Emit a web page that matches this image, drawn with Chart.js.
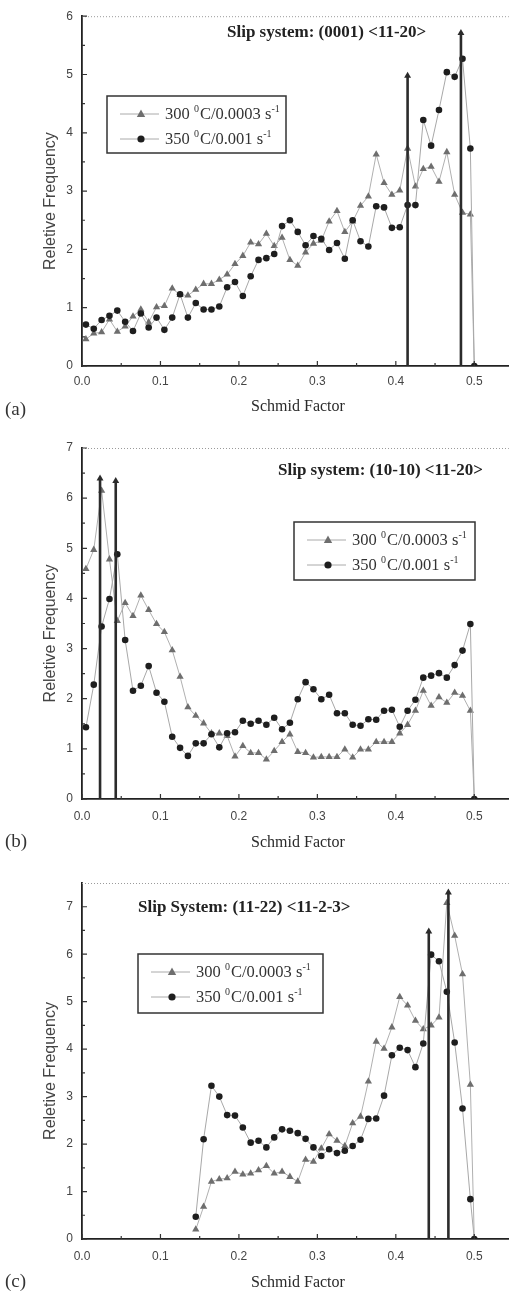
<!DOCTYPE html>
<html>
<head>
<meta charset="utf-8">
<script src="https://cdn.jsdelivr.net/npm/chart.js@4.4.1/dist/chart.umd.min.js"></script>
<style>
  html, body { margin: 0; padding: 0; background: #fff; }
  body { width: 513px; height: 1301px; position: relative; overflow: hidden; }
  .panel { position: absolute; left: 0; width: 513px; }
  canvas { display: block; }
</style>
</head>
<body>
<div class="panel" style="top:0;height:420px"><canvas id="chartA" width="513" height="420"></canvas></div>
<div class="panel" style="top:420px;height:440px"><canvas id="chartB" width="513" height="440"></canvas></div>
<div class="panel" style="top:860px;height:441px"><canvas id="chartC" width="513" height="441"></canvas></div>
<script>
// bin centres (Schmid factor), shared by all three panels
const schmidX = [0.005, 0.015, 0.025, 0.035, 0.045, 0.055, 0.065, 0.075, 0.085, 0.095,
                 0.105, 0.115, 0.125, 0.135, 0.145, 0.155, 0.165, 0.175, 0.185, 0.195,
                 0.205, 0.215, 0.225, 0.235, 0.245, 0.255, 0.265, 0.275, 0.285, 0.295,
                 0.305, 0.315, 0.325, 0.335, 0.345, 0.355, 0.365, 0.375, 0.385, 0.395,
                 0.405, 0.415, 0.425, 0.435, 0.445, 0.455, 0.465, 0.475, 0.485, 0.495, 0.5];

// (a) basal (0001) <11-20>
const basal300 = [0.46, 0.56, 0.58, 0.80, 0.59, 0.68, 0.85, 0.97, 0.75, 1.01,
                  1.03, 1.33, 1.22, 1.21, 1.31, 1.41, 1.41, 1.48, 1.57, 1.75,
                  1.89, 2.12, 2.09, 2.27, 2.06, 2.20, 1.82, 1.72, 1.95, 2.10,
                  2.15, 2.48, 2.66, 2.30, 2.48, 2.75, 2.91, 3.63, 3.14, 2.94,
                  3.01, 3.73, 3.08, 3.38, 3.42, 3.16, 3.67, 2.94, 2.63, 2.60, 0];
const basal350 = [0.71, 0.64, 0.79, 0.86, 0.95, 0.76, 0.60, 0.90, 0.66, 0.83,
                  0.62, 0.83, 1.23, 0.83, 1.08, 0.97, 0.97, 1.02, 1.35, 1.44,
                  1.20, 1.54, 1.82, 1.85, 1.92, 2.40, 2.50, 2.30, 2.07, 2.23,
                  2.18, 1.99, 2.11, 1.84, 2.50, 2.14, 2.05, 2.74, 2.72, 2.37,
                  2.38, 2.76, 2.76, 4.22, 3.78, 4.39, 5.04, 4.96, 5.27, 3.73, 0];
const basalArrowX = [0.415, 0.483];
const basalArrowTop = [4.98, 5.71];

// (b) prismatic (10-10) <11-20>
const prism300 = [4.59, 4.97, 6.15, 4.78, 3.55, 3.91, 3.65, 4.06, 3.77, 3.49,
                  3.33, 2.97, 2.44, 1.83, 1.66, 1.51, 1.31, 1.31, 1.26, 0.85,
                  1.06, 0.92, 0.92, 0.79, 0.96, 1.14, 1.29, 0.94, 0.92, 0.83,
                  0.84, 0.84, 0.84, 0.99, 0.83, 0.99, 0.99, 1.14, 1.14, 1.14,
                  1.31, 1.48, 1.76, 2.16, 1.86, 2.03, 1.92, 2.12, 2.06, 1.76, 0];
const prism350 = [1.43, 2.28, 3.44, 3.99, 4.88, 3.17, 2.16, 2.26, 2.65, 2.12,
                  1.94, 1.24, 1.02, 0.86, 1.11, 1.11, 1.29, 1.03, 1.31, 1.33,
                  1.56, 1.50, 1.56, 1.48, 1.62, 1.39, 1.52, 1.99, 2.33, 2.19,
                  1.99, 2.08, 1.71, 1.71, 1.48, 1.46, 1.59, 1.58, 1.76, 1.78,
                  1.44, 1.76, 1.98, 2.42, 2.46, 2.51, 2.42, 2.67, 2.96, 3.49, 0];
const prismArrowX = [0.023, 0.043];
const prismArrowTop = [6.39, 6.34];

// (c) pyramidal (11-22) <11-2-3>
const pyr300 = [null, null, null, null, null, null, null, null, null, null,
                null, null, null, null, 0.20, 0.68, 1.21, 1.26, 1.28, 1.42,
                1.36, 1.38, 1.45, 1.54, 1.38, 1.42, 1.31, 1.21, 1.67, 1.63,
                1.91, 2.21, 2.07, 1.96, 2.44, 2.58, 3.32, 4.16, 4.01, 4.46,
                5.10, 4.92, 4.60, 4.42, 4.50, 4.67, 7.08, 6.39, 5.58, 3.25, 0];
const pyr350 = [null, null, null, null, null, null, null, null, null, null,
                null, null, null, null, 0.47, 2.10, 3.23, 3.00, 2.61, 2.60,
                2.35, 2.03, 2.07, 1.93, 2.14, 2.31, 2.28, 2.23, 2.11, 1.93,
                1.75, 1.89, 1.81, 1.86, 1.96, 2.09, 2.53, 2.54, 3.02, 3.87,
                4.03, 3.98, 3.62, 4.12, 5.99, 5.85, 5.21, 4.14, 2.75, 0.84, 0];
const pyrArrowX = [0.442, 0.467];
const pyrArrowTop = [6.48, 7.30];

const xTickVals = [0, 0.1, 0.2, 0.3, 0.4, 0.5];
const yTicksA = [0, 1, 2, 3, 4, 5, 6];
const yTicksBC = [0, 1, 2, 3, 4, 5, 6, 7];

const panelTitles = ['Slip system: (0001) <11-20>', 'Slip system: (10-10) <11-20>', 'Slip System: (11-22) <11-2-3>'];
const panelLetters = ['(a)', '(b)', '(c)'];
// legend text pieces: [text, superscript?]
const legend300 = [['300 ', false], ['0', true], ['C/0.0003 s', false], ['-1', true]];
const legend350 = [['350 ', false], ['0', true], ['C/0.001 s', false], ['-1', true]];

const SERIF = '"Liberation Serif", "DejaVu Serif", serif';
const SANS = '"Liberation Sans", Arial, sans-serif';

function pts(vals) {
    return schmidX.map((x, i) => ({ x: x, y: vals[i] })).filter(p => p.y !== null);
}

function arrowSets(xs, tops) {
    return xs.map((x, i) => ({
        data: [{ x: x, y: 0 }, { x: x, y: tops[i] }],
        borderColor: '#2b2b2b',
        borderWidth: 2.6,
        pointRadius: [0, 4],
        pointStyle: 'triangle',
        pointBackgroundColor: '#2b2b2b',
        pointBorderColor: '#2b2b2b',
        pointBorderWidth: 0
    }));
}

function drawParts(ctx, parts, x, y) {
    parts.forEach(([txt, sup]) => {
        ctx.font = sup ? '10px ' + SERIF : '16.5px ' + SERIF;
        ctx.fillText(txt, x, sup ? y - 6 : y);
        x += ctx.measureText(txt).width + (sup ? 1 : 0);
    });
}

// frame, inward ticks, axis titles, slip title and boxed legend
const decoPlugin = {
    id: 'deco',
    afterDraw(chart, args, o) {
        const ctx = chart.ctx;
        const ca = chart.chartArea;
        const xs = chart.scales.x, ys = chart.scales.y;
        ctx.save();

        // dotted top frame line
        ctx.strokeStyle = '#9a9a9a';
        ctx.lineWidth = 1;
        ctx.setLineDash([1, 2]);
        ctx.beginPath();
        ctx.moveTo(ca.left, ca.top + 0.5);
        ctx.lineTo(ca.right, ca.top + 0.5);
        ctx.stroke();
        ctx.setLineDash([]);

        // inward tick marks
        ctx.strokeStyle = '#333';
        ctx.lineWidth = 1.2;
        ctx.beginPath();
        xTickVals.forEach(v => {
            const px = xs.getPixelForValue(v);
            ctx.moveTo(px, ca.bottom); ctx.lineTo(px, ca.bottom - 5);
            const pm = xs.getPixelForValue(v + 0.05);
            if (pm < ca.right) { ctx.moveTo(pm, ca.bottom); ctx.lineTo(pm, ca.bottom - 3); }
        });
        o.yTicks.forEach(v => {
            const py = ys.getPixelForValue(v);
            ctx.moveTo(ca.left, py); ctx.lineTo(ca.left + 5, py);
            const pm = ys.getPixelForValue(v + 0.5);
            if (pm > ca.top) { ctx.moveTo(ca.left, pm); ctx.lineTo(ca.left + 3, pm); }
        });
        ctx.stroke();

        // axis titles
        ctx.fillStyle = '#2a2a2a';
        ctx.textAlign = 'center';
        ctx.textBaseline = 'middle';
        ctx.font = '16px ' + SERIF;
        ctx.fillText('Schmid Factor', 298, o.xTitleY);
        ctx.save();
        ctx.translate(51, (ca.top + ca.bottom) / 2 + 10);
        ctx.rotate(-Math.PI / 2);
        ctx.font = '16px ' + SANS;
        ctx.fillStyle = '#444';
        ctx.fillText('Reletive Frequency', 0, 0);
        ctx.restore();

        // panel letter
        ctx.textAlign = 'left';
        ctx.font = '19px ' + SERIF;
        ctx.fillStyle = '#333';
        ctx.fillText(o.letter, 5, o.letterY);

        // slip-system title
        ctx.font = 'bold 17px ' + SERIF;
        ctx.fillStyle = '#222';
        ctx.fillText(o.title, o.titleX, o.titleY);

        // legend box
        const L = o.legend;
        ctx.strokeStyle = '#333';
        ctx.lineWidth = 1.5;
        ctx.strokeRect(L.left, L.top, L.width, L.height);
        const rows = [
            { y: L.top + 18, parts: legend300, tri: true },
            { y: L.top + 43, parts: legend350, tri: false }
        ];
        rows.forEach(r => {
            ctx.strokeStyle = '#aaa';
            ctx.lineWidth = 1;
            ctx.beginPath();
            ctx.moveTo(L.left + 13, r.y); ctx.lineTo(L.left + 52, r.y);
            ctx.stroke();
            const mx = L.left + 34;
            ctx.beginPath();
            if (r.tri) {
                ctx.fillStyle = '#6e6e6e';
                ctx.moveTo(mx, r.y - 4.5); ctx.lineTo(mx + 4.2, r.y + 3); ctx.lineTo(mx - 4.2, r.y + 3);
                ctx.closePath();
            } else {
                ctx.fillStyle = '#1e1e1e';
                ctx.arc(mx, r.y, 3.6, 0, Math.PI * 2);
            }
            ctx.fill();
            ctx.fillStyle = '#333';
            ctx.textBaseline = 'middle';
            drawParts(ctx, r.parts, L.left + 58, r.y + 1);
        });
        ctx.restore();
    }
};

function makeChart(id, cfg) {
    const datasets = arrowSets(cfg.arrowX, cfg.arrowTop).concat([
        {
            data: pts(cfg.s350),
            borderColor: '#a8a8a8',
            borderWidth: 1,
            pointStyle: 'circle',
            pointRadius: 3.3,
            pointBackgroundColor: '#1e1e1e',
            pointBorderColor: '#1e1e1e',
            pointBorderWidth: 0
        },
        {
            data: pts(cfg.s300),
            borderColor: '#b0b0b0',
            borderWidth: 1,
            pointStyle: 'triangle',
            pointRadius: 4.2,
            pointBackgroundColor: '#6e6e6e',
            pointBorderColor: '#6e6e6e',
            pointBorderWidth: 0
        }
    ]);

    return new Chart(document.getElementById(id), {
        type: 'line',
        data: { datasets: datasets },
        options: {
            responsive: false,
            devicePixelRatio: 1,
            animation: false,
            layout: { padding: { top: cfg.padTop, left: 0, right: 0, bottom: 0 } },
            plugins: {
                legend: { display: false },
                tooltip: { enabled: false },
                deco: cfg.deco
            },
            scales: {
                x: {
                    type: 'linear',
                    min: 0,
                    max: 0.544,
                    afterBuildTicks: s => { s.ticks = xTickVals.map(v => ({ value: v })); },
                    afterFit: s => { s.height = cfg.xAxisH; },
                    grid: { display: false, drawTicks: false },
                    border: { display: true, color: '#222', width: 1.8 },
                    ticks: {
                        padding: cfg.tickPad,
                        color: '#444',
                        maxRotation: 0,
                        font: { family: SANS, size: 12 },
                        callback: v => Number(v).toFixed(1)
                    }
                },
                y: {
                    type: 'linear',
                    min: 0,
                    max: cfg.yMax,
                    afterBuildTicks: s => { s.ticks = cfg.yTicks.map(v => ({ value: v })); },
                    afterFit: s => { s.width = 82; },
                    grid: { display: false, drawTicks: false },
                    border: { display: true, color: '#222', width: 1.8 },
                    ticks: {
                        padding: 9,
                        color: '#444',
                        font: { family: SANS, size: 12 },
                        callback: v => String(v)
                    }
                }
            }
        },
        plugins: [decoPlugin]
    });
}

makeChart('chartA', {
    s300: basal300, s350: basal350, arrowX: basalArrowX, arrowTop: basalArrowTop,
    yMax: 6, yTicks: yTicksA, padTop: 12, xAxisH: 54, tickPad: 8,
    deco: {
        yTicks: yTicksA, letter: panelLetters[0], letterY: 410, xTitleY: 407,
        title: panelTitles[0], titleX: 227, titleY: 33,
        legend: { left: 107, top: 96, width: 179, height: 57 }
    }
});

makeChart('chartB', {
    s300: prism300, s350: prism350, arrowX: prismArrowX, arrowTop: prismArrowTop,
    yMax: 7, yTicks: yTicksBC, padTop: 28, xAxisH: 61, tickPad: 10,
    deco: {
        yTicks: yTicksBC, letter: panelLetters[1], letterY: 422, xTitleY: 423,
        title: panelTitles[1], titleX: 278, titleY: 51,
        legend: { left: 294, top: 102, width: 181, height: 58 }
    }
});

makeChart('chartC', {
    s300: pyr300, s350: pyr350, arrowX: pyrArrowX, arrowTop: pyrArrowTop,
    yMax: 7.5, yTicks: yTicksBC, padTop: 23, xAxisH: 62, tickPad: 10,
    deco: {
        yTicks: yTicksBC, letter: panelLetters[2], letterY: 422, xTitleY: 423,
        title: panelTitles[2], titleX: 138, titleY: 48,
        legend: { left: 138, top: 94, width: 185, height: 59 }
    }
});
</script>
</body>
</html>
